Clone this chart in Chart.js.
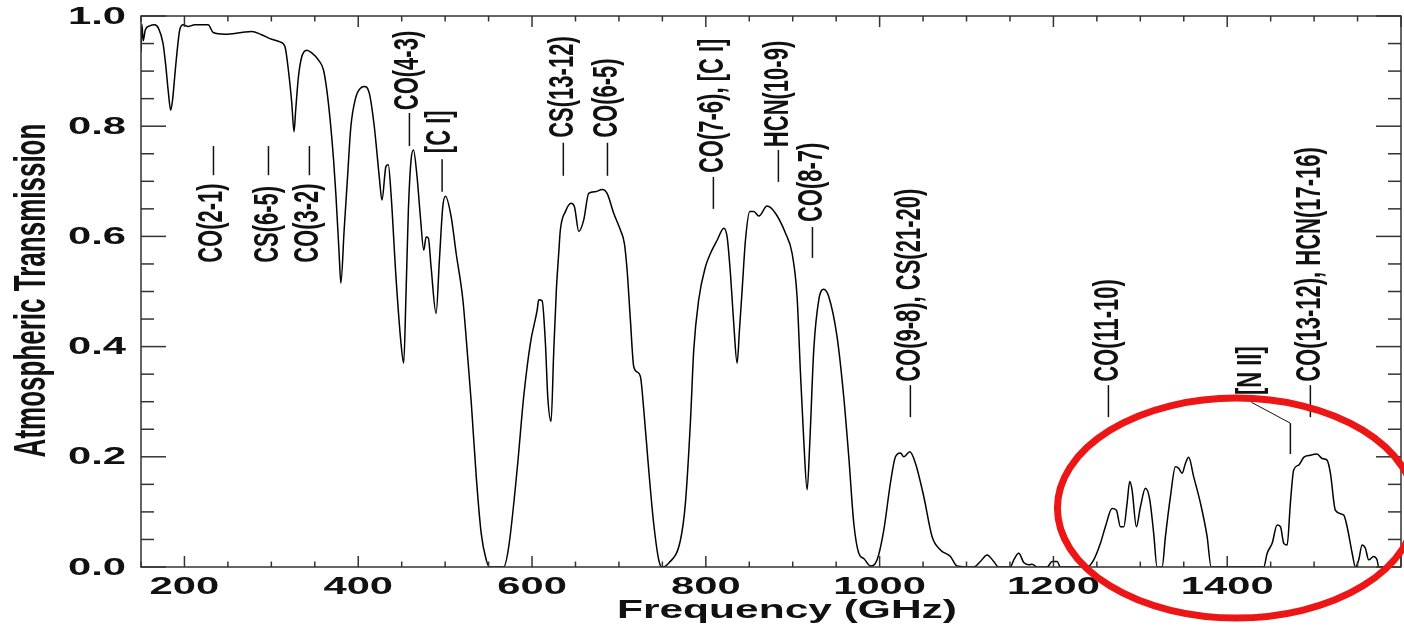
<!DOCTYPE html>
<html><head><meta charset="utf-8">
<script src="https://cdn.jsdelivr.net/npm/chart.js@4/dist/chart.umd.min.js"></script>
<style>html,body{margin:0;padding:0;background:#fff;}canvas{display:block;}</style>
</head><body>
<canvas id="c" width="1404" height="626" style="width:1404px;height:626px"></canvas>
<script>
// ---- data ----
const freqGHz = [150,151,152.5,155,160,165.6,170,175.4,178.5,181.2,184.2,186.5,188.8,191.5,194.6,198.5,204.2,211.9,227.3,233.1,246.5,265.8,277.3,288.8,298.4,310,315.7,319.6,323.5,326.1,328,331.2,335,340.8,346.5,354.3,360,363.8,367.7,371.6,374.2,378,380,383.8,387.7,391.5,397.3,402,407,412.7,418.5,424.2,427.3,431.9,434.6,437.7,443.4,449.2,452.3,455,457.7,460.8,463.5,467.7,471.5,475.4,478.1,480.7,483.8,489.6,493.4,497.3,500.4,506.9,512.7,520.4,526.2,530,535.8,541.5,547.3,551,567.4,573.2,582.8,590.4,598.1,605.9,607.7,611.6,615.4,618.1,621.9,624.9,628,630.7,632.6,638.4,645,648.8,653.8,659.5,665.2,672.9,680.7,686.4,694,701.6,706.3,709.4,713.2,717,720.9,724.8,728.6,734.3,740,745.8,749.6,757.3,770.8,776.5,782.3,786.1,791.8,799.6,805.3,813,820.7,824.5,828.3,832.1,836,838.7,841.8,845.6,850.6,855.2,861,870.5,880.1,891.6,899.3,905,908.9,912.7,916.6,919.6,924.2,930,935.6,941.4,951,958.7,964.5,970.3,976,982,989.4,997.1,1004.8,1012.4,1018.2,1024,1027.8,1034.8,1041.3,1050.8,1060.4,1070,1081.5,1089.1,1108.3,1116,1123.7,1131.3,1137.1,1150.5,1154.4,1160.1,1165.9,1171.6,1175.5,1181.2,1192.8,1198.5,1204.2,1208.1,1238.7,1246.4,1254.1,1259.8,1267.5,1272.5,1277.1,1281,1284.8,1287.8,1290.5,1295.5,1300.1,1305.9,1310.9,1315.4,1319.3,1325.1,1328.9,1334.7,1340.4,1344.2,1348.1,1351.9,1355.7,1361.4,1369.2,1376.9,1381.5,1442,1446,1451.7,1457.5,1461.3,1465.1,1469,1472.7,1476.5,1482.3,1488,1495.7,1503.4,1509.2,1514.9,1518.8,1524.5,1534.1,1538,1543.8,1547.6,1551.4,1555.2,1559,1562.8,1568.5,1572.4,1574.3,1580];
const transmission = [0.935,0.985,0.955,0.975,0.982,0.984,0.978,0.95,0.91,0.866,0.829,0.85,0.89,0.935,0.975,0.984,0.981,0.984,0.984,0.970,0.967,0.970,0.972,0.966,0.959,0.953,0.944,0.902,0.842,0.790,0.829,0.89,0.926,0.938,0.933,0.92,0.902,0.866,0.811,0.739,0.678,0.569,0.515,0.612,0.708,0.799,0.853,0.868,0.872,0.860,0.799,0.708,0.666,0.727,0.730,0.678,0.527,0.406,0.370,0.497,0.648,0.739,0.757,0.708,0.636,0.575,0.599,0.597,0.545,0.460,0.557,0.654,0.673,0.636,0.569,0.485,0.376,0.300,0.164,0.061,0.013,0,0,0.037,0.176,0.309,0.406,0.466,0.485,0.483,0.406,0.309,0.264,0.388,0.503,0.569,0.612,0.645,0.660,0.654,0.609,0.630,0.678,0.681,0.685,0.678,0.642,0.612,0.587,0.539,0.448,0.364,0.354,0.345,0.285,0.176,0.079,0.013,0,0.007,0.049,0.116,0.264,0.394,0.485,0.545,0.569,0.593,0.615,0.599,0.533,0.442,0.370,0.430,0.503,0.593,0.645,0.645,0.637,0.655,0.642,0.606,0.569,0.491,0.352,0.230,0.140,0.224,0.394,0.485,0.504,0.491,0.418,0.309,0.200,0.079,0.025,0.015,0.002,0.013,0.067,0.152,0.200,0.207,0.200,0.209,0.188,0.128,0.055,0.031,0.019,0.002,0,0.010,0.022,0.010,0,0,0.013,0.025,0.008,0.004,0.005,0,0,0.010,0.010,0,0,0.013,0.043,0.073,0.106,0.103,0.073,0.073,0.116,0.155,0.140,0.073,0.109,0.143,0.122,0.061,0,0,0.055,0.128,0.182,0.179,0.170,0.188,0.199,0.164,0.116,0.055,0,0,0.025,0.043,0.076,0.073,0.043,0.040,0.116,0.176,0.185,0.199,0.203,0.205,0.197,0.194,0.170,0.103,0.094,0.073,0.025,0,0.013,0.040,0.034,0.013,0.019,0.013,0,0];

const xTickLabelValues = [200,400,600,800,1000,1200,1400];
const yTickLabelValues = [0.0,0.2,0.4,0.6,0.8,1.0];

const lineLabels = ['CO(2-1)','CS(6-5)','CO(3-2)','CO(4-3)','[C I]','CS(13-12)','CO(6-5)','CO(7-6), [C I]','HCN(10-9)','CO(8-7)','CO(9-8), CS(21-20)','CO(11-10)','[N II]','CO(13-12), HCN(17-16)'];
const lineFreqs  = [233.4,296.7,343.8,458.9,496.5,636,686.8,808.7,883.5,922.7,1035.4,1263.3,1472.7,1495.7];
const labelFreqs = [231.5,296.7,342.5,457.5,494.5,636,686.8,808.7,883.5,922.7,1035.4,1263.3,1427.8,1495.7];
const markTop    = [0.764,0.764,0.764,0.824,0.740,0.770,0.770,0.708,0.757,0.617,0.330,0.330,0.261,0.330];
const markBottom = [0.711,0.711,0.711,0.764,0.681,0.710,0.710,0.650,0.699,0.561,0.272,0.272,0.205,0.272];
const labelStart = [0.552,0.552,0.552,0.829,0.751,0.779,0.779,0.715,0.762,0.626,0.336,0.336,0.312,0.336];
const leaderFrom = [null,null,null,null,null,null,null,null,null,null,null,null,[1427.8,0.299],null];

const highlightEllipse = {f:1410.6, v:0.107, rf:206, rv:0.1996};

// ---- drawing helpers ----
const FONT = '"Liberation Sans", Arial, sans-serif';
function stretchedText(ctx, txt, px, py, sx, align, baseline, rotate) {
  ctx.save();
  ctx.translate(px, py);
  ctx.scale(sx, 1);
  if (rotate) ctx.rotate(-Math.PI / 2);
  ctx.textAlign = align;
  ctx.textBaseline = baseline;
  ctx.fillText(txt, 0, 0);
  ctx.restore();
}
function seg(ctx, x1, y1, x2, y2) { ctx.beginPath(); ctx.moveTo(x1, y1); ctx.lineTo(x2, y2); ctx.stroke(); }

const decor = {
  id: 'decor',
  afterDatasetsDraw(chart) {
    const {ctx, chartArea: a, scales: {x, y}} = chart;
    ctx.save();
    ctx.strokeStyle = '#333'; ctx.lineWidth = 1.5;
    ctx.strokeRect(a.left, a.top, a.right - a.left, a.bottom - a.top);
    x.ticks.forEach(t => {
      const px = x.getPixelForValue(t.value);
      const major = Math.abs(t.value / 200 - Math.round(t.value / 200)) < 1e-6;
      const L = major ? 11 : 5.5;
      seg(ctx, px, a.bottom, px, a.bottom - L);
      seg(ctx, px, a.top, px, a.top + L);
    });
    y.ticks.forEach(t => {
      const py = y.getPixelForValue(t.value);
      const major = Math.abs(t.value / 0.2 - Math.round(t.value / 0.2)) < 1e-6;
      const L = major ? 25 : 13;
      seg(ctx, a.left, py, a.left + L, py);
      seg(ctx, a.right, py, a.right - L, py);
    });
    ctx.fillStyle = '#111';
    ctx.font = 'bold 24px ' + FONT;
    yTickLabelValues.forEach(v => {
      stretchedText(ctx, v.toFixed(1), a.left - 15, y.getPixelForValue(v) + 1, 1.74, 'right', 'middle', false);
    });
    xTickLabelValues.forEach(v => {
      stretchedText(ctx, String(v), x.getPixelForValue(v), a.bottom + 27, 1.74, 'center', 'alphabetic', false);
    });
    ctx.font = 'bold 25px ' + FONT;
    stretchedText(ctx, 'Frequency (GHz)', (a.left + a.right) / 2 + 16, a.bottom + 51, 1.7, 'center', 'alphabetic', false);
    ctx.font = 'bold 26px ' + FONT;
    stretchedText(ctx, 'Atmospheric Transmission', 45, (a.top + a.bottom) / 2 - 1, 1.7, 'center', 'alphabetic', true);
    ctx.strokeStyle = '#111'; ctx.lineWidth = 1.5;
    ctx.font = 'bold 22px ' + FONT;
    lineLabels.forEach((lab, i) => {
      const lx = x.getPixelForValue(lineFreqs[i]);
      seg(ctx, lx, y.getPixelForValue(markTop[i]), lx, y.getPixelForValue(markBottom[i]));
      if (leaderFrom[i]) {
        ctx.lineWidth = 1;
        seg(ctx, x.getPixelForValue(leaderFrom[i][0]), y.getPixelForValue(leaderFrom[i][1]), lx, y.getPixelForValue(markTop[i]));
        ctx.lineWidth = 1.5;
      }
      stretchedText(ctx, lab, x.getPixelForValue(labelFreqs[i]), y.getPixelForValue(labelStart[i]), 1.6, 'left', 'middle', true);
    });
    ctx.restore();
  },
  afterDraw(chart) {
    const {ctx, scales: {x, y}} = chart;
    const e = highlightEllipse;
    const cx = x.getPixelForValue(e.f), cy = y.getPixelForValue(e.v);
    const rx = Math.abs(x.getPixelForValue(e.f + e.rf) - cx);
    const ry = Math.abs(y.getPixelForValue(e.v + e.rv) - cy);
    ctx.save();
    ctx.strokeStyle = 'rgb(236,22,22)'; ctx.lineWidth = 7;
    ctx.beginPath(); ctx.ellipse(cx, cy, rx, ry, 0, 0, Math.PI * 2); ctx.stroke();
    ctx.restore();
  }
};

new Chart(document.getElementById('c'), {
  type: 'line',
  data: { datasets: [{
    data: freqGHz.map((f, i) => ({x: f, y: transmission[i]})),
    borderColor: '#000', borderWidth: 1.5, pointRadius: 0,
    cubicInterpolationMode: 'monotone', fill: false
  }]},
  options: {
    responsive: false, animation: false, devicePixelRatio: 1,
    layout: { padding: { top: 16, right: 3, left: 0, bottom: 0 } },
    plugins: { legend: { display: false }, tooltip: { enabled: false } },
    scales: {
      x: { type: 'linear', min: 150, max: 1600,
           ticks: { display: false, stepSize: 50 }, grid: { display: false }, border: { display: false },
           afterFit(s) { s.height = 59; } },
      y: { type: 'linear', min: 0, max: 1,
           ticks: { display: false, stepSize: 0.05 }, grid: { display: false }, border: { display: false },
           afterFit(s) { s.width = 141; } }
    }
  },
  plugins: [decor]
});
</script>
</body></html>
